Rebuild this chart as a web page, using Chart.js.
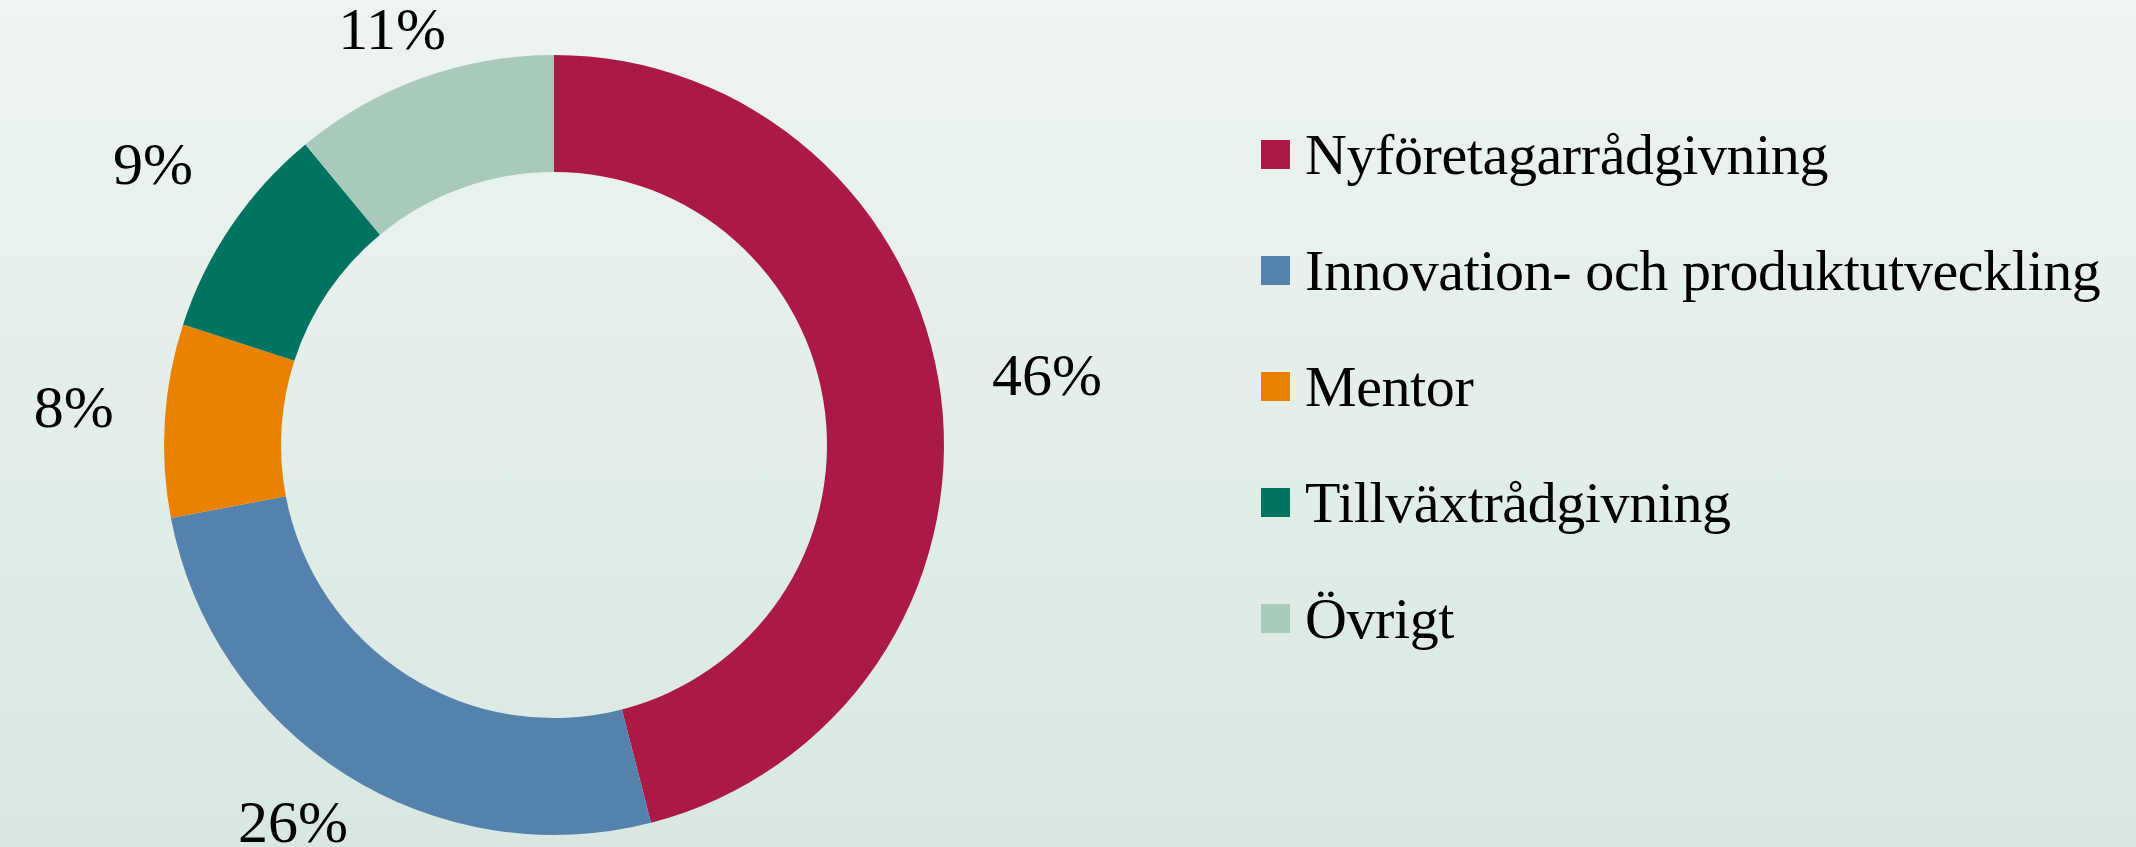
<!DOCTYPE html>
<html lang="sv">
<head>
    <meta charset="UTF-8">
    <title>Fördelning av rådgivning</title>
    <script src="https://cdn.jsdelivr.net/npm/chart.js"></script>
    <style>
        html, body {
            margin: 0;
            padding: 0;
            width: 2136px;
            height: 847px;
            overflow: hidden;
        }
        body {
            background: linear-gradient(to bottom, #eef4f1 0%, #d8e8e0 100%);
            font-family: "Liberation Serif", "DejaVu Serif", serif;
            position: relative;
        }
        .chart-box {
            position: absolute;
            left: 0;
            top: 0;
            width: 1108px;
            height: 847px;
        }
        #legend {
            position: absolute;
            left: 1261px;
            top: 96px;
            margin: 0;
            padding: 0;
            list-style: none;
        }
        #legend li {
            display: flex;
            align-items: center;
            height: 116px;
            font-size: 58px;
            letter-spacing: -0.4px;
            color: #000;
            white-space: nowrap;
        }
        #legend .box {
            width: 29px;
            height: 29px;
            margin-right: 15px;
            flex: none;
        }
    </style>
</head>
<body>
    <div class="chart-box"><canvas id="donut" width="1108" height="847"></canvas></div>
    <ul id="legend"></ul>
    <script>
        const categories = ["Nyföretagarrådgivning", "Innovation- och produktutveckling", "Mentor", "Tillväxtrådgivning", "Övrigt"];
        const shares = [46, 26, 8, 9, 11];
        const colors = ["#ab1947", "#5582ac", "#ea8200", "#007461", "#a9cabb"];

        // percent labels outside the ring, kept inside the canvas
        const outsideLabels = {
            id: "outsideLabels",
            afterDatasetsDraw(chart) {
                const ctx = chart.ctx;
                const meta = chart.getDatasetMeta(0);
                const gap = 50;
                const capH = 40;
                ctx.save();
                ctx.font = "60px 'Liberation Serif', serif";
                ctx.fillStyle = "#000";
                ctx.textAlign = "center";
                ctx.textBaseline = "alphabetic";
                meta.data.forEach((arc, i) => {
                    const p = arc.getProps(["x", "y", "startAngle", "endAngle", "outerRadius"], true);
                    const mid = (p.startAngle + p.endAngle) / 2;
                    const dx = Math.cos(mid), dy = Math.sin(mid);
                    const text = shares[i] + "%";
                    const w = ctx.measureText(text).width;
                    const h = 42;
                    const ext = Math.abs(dx) * w / 2 + Math.abs(dy) * h / 2;
                    const d = p.outerRadius + gap + ext;
                    let cx = p.x + dx * d;
                    let cy = p.y + dy * d - 8;
                    cx = Math.min(Math.max(cx, w / 2 + 6), chart.width - w / 2 - 6);
                    cy = Math.min(Math.max(cy, h / 2 + 8), chart.height - h / 2 - 4);
                    ctx.fillText(text, cx, cy + capH / 2);
                });
                ctx.restore();
            }
        };

        new Chart(document.getElementById("donut"), {
            type: "doughnut",
            data: {
                labels: categories,
                datasets: [{
                    data: shares,
                    backgroundColor: colors,
                    borderWidth: 0
                }]
            },
            options: {
                responsive: false,
                animation: false,
                cutout: "70%",
                layout: { padding: { top: 55, bottom: 12 } },
                plugins: {
                    legend: { display: false },
                    tooltip: { enabled: false }
                }
            },
            plugins: [outsideLabels]
        });

        const legend = document.getElementById("legend");
        categories.forEach((name, i) => {
            const li = document.createElement("li");
            const box = document.createElement("span");
            box.className = "box";
            box.style.background = colors[i];
            li.appendChild(box);
            li.appendChild(document.createTextNode(name));
            legend.appendChild(li);
        });
    </script>
</body>
</html>
